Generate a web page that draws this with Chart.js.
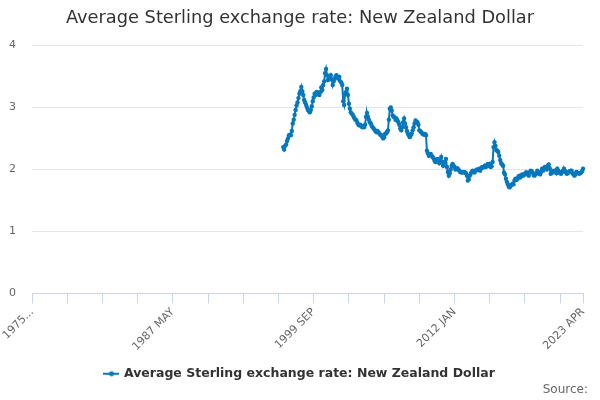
<!DOCTYPE html>
<html lang="en">
<head>
    <meta charset="UTF-8">
    <title>Average Sterling exchange rate: New Zealand Dollar</title>
    <script src="https://cdn.jsdelivr.net/npm/chart.js"></script>
    <style>
        body { margin: 0; background: #fff; }
        #wrap { width: 600px; height: 400px; }
    </style>
</head>
<body>
<div id="wrap"><canvas id="nzd-chart"></canvas></div>
<script>
    // categories: every month from 1975 JAN to 2023 APR
    const monthNames = ['JAN', 'FEB', 'MAR', 'APR', 'MAY', 'JUN', 'JUL', 'AUG', 'SEP', 'OCT', 'NOV', 'DEC'];
    const firstYear = 1975;
    const lastYear = 2023;
    const lastMonth = 4;
    const categories = [];
    for (let y = firstYear; y <= lastYear; y++) {
        for (let m = 0; m < 12; m++) {
            if (y === lastYear && m >= lastMonth) break;
            categories.push(y + ' ' + monthNames[m]);
        }
    }

    // series starts in 1997 JAN
    const seriesStart = '1997 JAN';
    const nzdRate = [
        2.36, 2.32, 2.38, 2.40, 2.46, 2.50, 2.55, 2.56, 2.55, 2.62, 2.74, 2.80, // 1997
        2.88, 2.96, 3.03, 3.08, 3.15, 3.22, 3.26, 3.33, 3.26, 3.20, 3.12, 3.08, // 1998
        3.04, 3.00, 2.96, 2.94, 2.92, 2.96, 3.02, 3.10, 3.16, 3.22, 3.20, 3.25, // 1999
        3.24, 3.21, 3.20, 3.25, 3.32, 3.28, 3.36, 3.42, 3.55, 3.62, 3.52, 3.44, // 2000
        3.46, 3.48, 3.52, 3.45, 3.36, 3.42, 3.46, 3.50, 3.52, 3.48, 3.46, 3.49, // 2001
        3.42, 3.40, 3.36, 3.10, 3.04, 3.22, 3.25, 3.30, 3.20, 3.06, 2.98, 2.92, // 2002
        2.90, 2.88, 2.85, 2.82, 2.80, 2.79, 2.75, 2.72, 2.71, 2.72, 2.70, 2.68, // 2003
        2.70, 2.68, 2.72, 2.85, 2.91, 2.85, 2.80, 2.76, 2.74, 2.70, 2.68, 2.66, // 2004
        2.64, 2.62, 2.60, 2.62, 2.60, 2.58, 2.56, 2.55, 2.53, 2.50, 2.52, 2.57, // 2005
        2.58, 2.60, 2.63, 2.80, 2.98, 3.00, 2.95, 2.87, 2.85, 2.84, 2.80, 2.82, // 2006
        2.79, 2.76, 2.72, 2.66, 2.63, 2.68, 2.76, 2.82, 2.74, 2.68, 2.62, 2.58, // 2007
        2.55, 2.52, 2.55, 2.58, 2.63, 2.68, 2.74, 2.79, 2.77, 2.76, 2.72, 2.63, // 2008
        2.62, 2.60, 2.58, 2.57, 2.56, 2.57, 2.55, 2.30, 2.26, 2.22, 2.24, 2.25, // 2009
        2.22, 2.20, 2.18, 2.14, 2.12, 2.15, 2.17, 2.15, 2.10, 2.14, 2.20, 2.12, // 2010
        2.06, 2.10, 2.12, 2.17, 2.04, 1.96, 1.90, 1.94, 2.00, 2.06, 2.09, 2.06, // 2011
        2.04, 2.00, 2.01, 2.02, 2.00, 1.98, 1.96, 1.95, 1.96, 1.95, 1.96, 1.95, // 2012
        1.94, 1.90, 1.82, 1.84, 1.90, 1.93, 1.96, 1.98, 1.97, 1.95, 1.98, 1.99, // 2013
        2.00, 1.99, 2.01, 1.98, 2.02, 2.04, 2.03, 2.04, 2.06, 2.04, 2.07, 2.09, // 2014
        2.06, 2.09, 2.04, 2.05, 2.12, 2.36, 2.44, 2.38, 2.31, 2.30, 2.28, 2.22, // 2015
        2.15, 2.10, 2.08, 2.06, 1.95, 1.92, 1.85, 1.80, 1.76, 1.72, 1.71, 1.74, // 2016
        1.75, 1.77, 1.76, 1.82, 1.85, 1.83, 1.84, 1.88, 1.90, 1.87, 1.89, 1.92, // 2017
        1.90, 1.91, 1.93, 1.95, 1.95, 1.92, 1.90, 1.95, 1.98, 1.97, 1.95, 1.91, // 2018
        1.90, 1.92, 1.94, 1.98, 1.96, 1.93, 1.92, 1.96, 2.01, 1.98, 2.02, 2.04, // 2019
        2.03, 2.00, 2.06, 2.08, 2.02, 1.93, 1.94, 1.97, 1.98, 1.96, 1.98, 1.94, // 2020
        2.01, 1.98, 1.96, 1.94, 1.93, 1.96, 1.98, 2.01, 1.98, 1.95, 1.93, 1.94, // 2021
        1.96, 1.97, 1.98, 1.98, 1.94, 1.92, 1.90, 1.92, 1.96, 1.95, 1.94, 1.93, // 2022
        1.94, 1.95, 1.97, 2.01                                                  // 2023
    ];

    const yTicks = [0, 1, 2, 3, 4];
    const labelEvery = 148;  // months between printed labels
    const tickEvery = 37;    // months between tick marks

    const startIdx = categories.indexOf(seriesStart);
    const points = nzdRate.map((v, i) => ({ x: categories[startIdx + i], y: v }));
    const lastIdx = categories.length - 1;

    const lineColor = '#0577bd';

    // legend symbol: short line with a marker in the middle
    const legendIcon = document.createElement('canvas');
    legendIcon.width = 16;
    legendIcon.height = 8;
    (function () {
        const g = legendIcon.getContext('2d');
        g.strokeStyle = lineColor;
        g.fillStyle = lineColor;
        g.lineWidth = 2;
        g.beginPath();
        g.moveTo(0, 4);
        g.lineTo(16, 4);
        g.stroke();
        g.beginPath();
        g.arc(8, 4, 2.5, 0, Math.PI * 2);
        g.fill();
    })();

    // "Source:" credit in the bottom right corner
    const sourceText = {
        id: 'sourceText',
        afterDraw: (chart) => {
            const { ctx } = chart;
            ctx.save();
            ctx.font = '12px "DejaVu Sans"';
            ctx.fillStyle = '#666666';
            ctx.textAlign = 'right';
            ctx.textBaseline = 'middle';
            ctx.fillText('Source:', 588, 390);
            ctx.restore();
        }
    };

    var ctx = document.getElementById('nzd-chart').getContext('2d');
    var chart = new Chart(ctx, {
        type: 'line',
        data: {
            labels: categories,
            datasets: [{
                label: 'Average Sterling exchange rate: New Zealand Dollar',
                data: points,
                borderColor: lineColor,
                backgroundColor: lineColor,
                borderWidth: 2,
                pointRadius: 2.2,
                pointBorderWidth: 0,
                pointBackgroundColor: lineColor,
                tension: 0
            }]
        },
        plugins: [sourceText],
        options: {
            responsive: true,
            maintainAspectRatio: false,
            animation: false,
            layout: { padding: { top: 0, left: 0, right: 0, bottom: 10 } },
            plugins: {
                title: {
                    display: true,
                    text: 'Average Sterling exchange rate: New Zealand Dollar',
                    color: '#333333',
                    font: { family: 'DejaVu Sans', size: 17.8, weight: 'normal' },
                    padding: { top: 8, bottom: 16 }
                },
                legend: {
                    position: 'bottom',
                    labels: {
                        color: '#333333',
                        font: { family: 'DejaVu Sans', size: 12.5, weight: 'bold' },
                        usePointStyle: true,
                        pointStyle: legendIcon,
                        padding: 2
                    }
                },
                tooltip: { enabled: false }
            },
            scales: {
                x: {
                    type: 'category',
                    offset: false,
                    border: { color: '#ccd6eb' },
                    grid: {
                        drawOnChartArea: false,
                        drawTicks: true,
                        tickLength: 10,
                        color: c => (c.index % tickEvery === 0 || c.index === lastIdx) ? '#ccd6eb' : 'rgba(0,0,0,0)'
                    },
                    ticks: {
                        autoSkip: false,
                        minRotation: 45,
                        maxRotation: 45,
                        padding: 2,
                        color: '#666666',
                        font: { family: 'DejaVu Sans', size: 11 },
                        callback: function (val, i) {
                            if (i === 0) return categories[0].slice(0, 4) + '...';
                            if (i % labelEvery === 0 || i === lastIdx) return categories[i];
                            return '';
                        }
                    },
                    afterFit: s => { s.height = 72; }
                },
                y: {
                    min: 0,
                    max: 4,
                    border: { display: false },
                    grid: { color: '#e6e6e6', drawTicks: false },
                    afterBuildTicks: s => { s.ticks = yTicks.map(v => ({ value: v })); },
                    ticks: {
                        padding: 16,
                        color: '#666666',
                        font: { family: 'DejaVu Sans', size: 11 }
                    },
                    afterFit: s => { s.width = 32; }
                },
                // empty right-hand axis, only to keep the right margin
                yRight: {
                    position: 'right',
                    min: 0,
                    max: 4,
                    border: { display: false },
                    grid: { drawOnChartArea: false, drawTicks: false },
                    ticks: { display: false },
                    afterFit: s => { s.width = 17; }
                }
            }
        }
    });
</script>
</body>
</html>
